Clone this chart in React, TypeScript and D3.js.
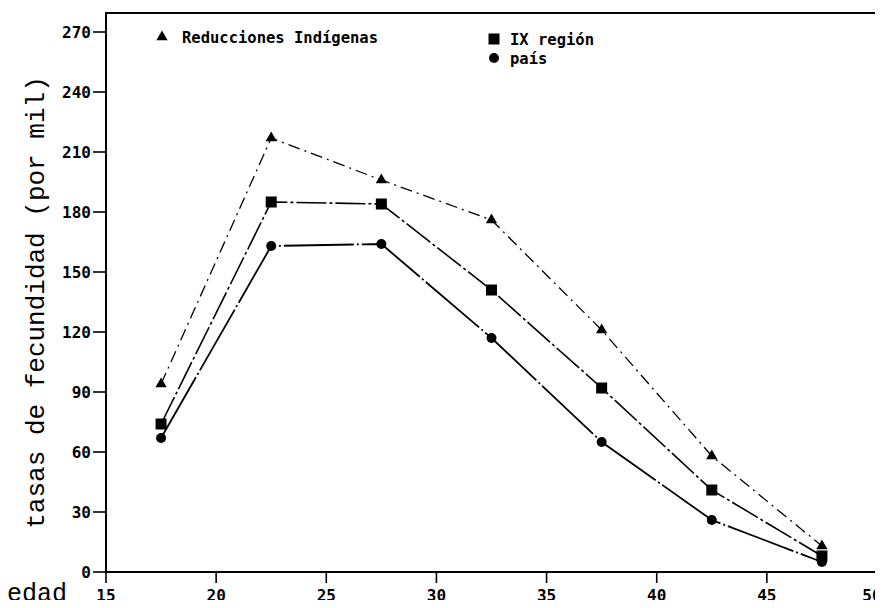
import React from 'react'
import * as d3 from 'd3'

const ages = [17.5, 22.5, 27.5, 32.5, 37.5, 42.5, 47.5]
const reducciones = [94, 217, 196, 176, 121, 58, 13]
const region = [74, 185, 184, 141, 92, 41, 8]
const pais = [67, 163, 164, 117, 65, 26, 5]
const xTicks = [15, 20, 25, 30, 35, 40, 45, 50]
const yTicks = [0, 30, 60, 90, 120, 150, 180, 210, 240, 270]

const W = 883
const H = 608
const left = 106
const right = 877
const top = 13
const bottom = 572

const tickFont = '"DejaVu Sans Mono", monospace'
const labelFont = '"Liberation Mono", "DejaVu Sans Mono", monospace'

export default function App () {
  const x = d3.scaleLinear().domain([15, 50]).range([left, right])
  // 2px per unit: the frame top sits a little above 270
  const y = d3.scaleLinear().domain([0, 279.5]).range([bottom, top])

  const line = d3.line<number>().x((d, i) => x(ages[i])).y(d => y(d))

  const series = [
    {name: 'Reducciones Indígenas', values: reducciones, marker: 'tri', dash: '12 5 2 5', width: 1.3},
    {name: 'IX región', values: region, marker: 'sq', dash: '30 3 3 3', width: 1.6},
    {name: 'país', values: pais, marker: 'dot', dash: '70 3 2 3', width: 1.8}
  ]

  const marker = (type: string, cx: number, cy: number, key: any) => {
    if (type === 'tri') {
      const tri = d3.symbol().type(d3.symbolTriangle).size(55)
      return <path key={key} d={tri() as string} transform={`translate(${cx},${cy})`} fill='#000' />
    }
    if (type === 'sq') {
      return <rect key={key} x={cx - 5.5} y={cy - 5.5} width={11} height={11} fill='#000' />
    }
    return <circle key={key} cx={cx} cy={cy} r={5} fill='#000' />
  }

  return (
    <div style={{margin: -8}}>
      <svg width={W} height={H} style={{display: 'block', background: '#fff'}}>
        <rect x={left} y={top} width={right - left} height={bottom - top} fill='none' stroke='#000' strokeWidth={2} />
        {yTicks.map(t => (
          <g key={'y' + t}>
            <line x1={left - 13} x2={left} y1={y(t)} y2={y(t)} stroke='#000' strokeWidth={1.6} />
            <text x={left - 15} y={y(t)} dy='0.35em' textAnchor='end' fontFamily={tickFont}
              fontWeight='bold' fontSize={16}>{t}</text>
          </g>
        ))}
        {xTicks.map(t => (
          <g key={'x' + t}>
            <line x1={x(t)} x2={x(t)} y1={bottom} y2={bottom + 11} stroke='#000' strokeWidth={1.6} />
            <text x={Math.min(x(t), W - 11)} y={bottom + 29} textAnchor='middle' fontFamily={tickFont}
              fontWeight='bold' fontSize={16}>{t}</text>
          </g>
        ))}
        <text x={7} y={601} fontFamily={labelFont} fontSize={25}>edad</text>
        <text transform={`translate(44,${(72 + 533) / 2}) rotate(-90)`} textAnchor='middle'
          fontFamily={labelFont} fontSize={26}>tasas de fecundidad (por mil)</text>

        {series.map(s => (
          <g key={s.name}>
            <path d={line(s.values) as string} fill='none' stroke='#000' strokeWidth={s.width}
              strokeDasharray={s.dash} />
            {s.values.map((v, i) => marker(s.marker, x(ages[i]), y(v), i))}
          </g>
        ))}

        {marker('tri', 162, 37, 'l1')}
        <text x={182} y={43} fontFamily={tickFont} fontWeight='bold' fontSize={15.5}>Reducciones Indígenas</text>
        {marker('sq', 494, 39, 'l2')}
        <text x={510} y={45} fontFamily={tickFont} fontWeight='bold' fontSize={15.5}>IX región</text>
        {marker('dot', 494, 58, 'l3')}
        <text x={510} y={64} fontFamily={tickFont} fontWeight='bold' fontSize={15.5}>país</text>
      </svg>
    </div>
  )
}
